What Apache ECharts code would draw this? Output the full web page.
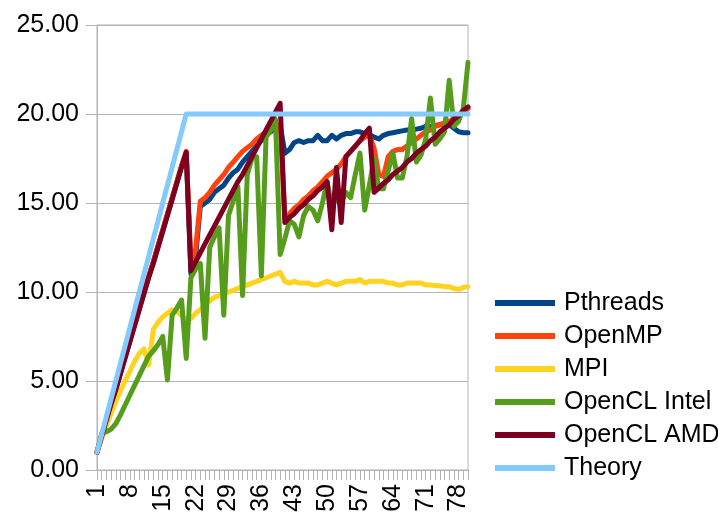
<!DOCTYPE html>
<html>
<head>
<meta charset="utf-8">
<script src="https://cdn.jsdelivr.net/npm/echarts@6/dist/echarts.min.js"></script>
<style>
html,body{margin:0;padding:0;background:#fff;}
#chart{width:718px;height:516px;}
</style>
</head>
<body>
<div id="chart"></div>
<script>
var categories = ['1','2','3','4','5','6','7','8','9','10','11','12','13','14','15','16','17','18','19','20',
'21','22','23','24','25','26','27','28','29','30','31','32','33','34','35','36','37','38','39','40',
'41','42','43','44','45','46','47','48','49','50','51','52','53','54','55','56','57','58','59','60',
'61','62','63','64','65','66','67','68','69','70','71','72','73','74','75','76','77','78','79','80'];

var pthreads = [1.0,1.9,2.8,3.7,4.55,5.45,6.35,7.25,8.15,9.05,9.95,10.85,11.7,12.6,13.45,14.35,15.25,16.15,17.05,17.8,
11.0,12.0,14.8,15.0,15.2,15.6,15.8,16.0,16.4,16.7,16.9,17.3,17.6,17.9,18.2,18.5,18.8,19.0,19.2,19.4,
17.8,18.0,18.4,18.5,18.4,18.5,18.5,18.8,18.5,18.5,18.8,18.6,18.8,18.9,18.9,19.0,19.0,18.9,18.85,18.7,
18.6,18.8,18.9,18.95,19.0,19.05,19.1,19.1,19.15,19.2,19.3,19.3,19.35,19.4,19.45,19.4,19.2,19.0,18.95,18.95];

var openmp = [1.0,1.95,2.85,3.75,4.6,5.5,6.4,7.3,8.2,9.1,10.0,10.9,11.7,12.6,13.5,14.4,15.3,16.2,17.1,17.9,
11.6,12.4,15.1,15.3,15.6,16.0,16.3,16.6,17.0,17.3,17.6,17.9,18.1,18.3,18.6,18.8,19.0,19.2,19.3,19.4,
14.2,14.4,14.7,14.9,15.2,15.4,15.7,15.9,16.2,16.5,16.7,16.9,17.2,17.6,17.9,18.2,18.5,18.7,18.8,18.1,
16.6,16.5,17.6,17.9,18.0,18.0,18.2,18.4,18.6,18.8,19.0,19.1,19.3,19.4,19.5,19.6,19.7,19.9,20.1,20.3];

var mpi = [1.0,1.75,2.5,3.2,3.85,4.45,5.0,5.55,6.1,6.55,6.8,5.9,7.9,8.3,8.6,8.8,9.0,8.9,8.7,8.4,
8.5,8.8,9.0,9.3,9.5,9.7,9.8,9.9,10.0,10.1,10.2,10.3,10.4,10.5,10.6,10.7,10.8,10.9,11.0,11.1,
10.6,10.5,10.6,10.5,10.5,10.5,10.4,10.4,10.5,10.6,10.5,10.4,10.5,10.6,10.6,10.6,10.7,10.5,10.6,10.6,
10.6,10.6,10.5,10.5,10.4,10.4,10.5,10.5,10.5,10.5,10.4,10.4,10.35,10.35,10.3,10.3,10.2,10.15,10.25,10.3];

var openclIntel = [1.0,2.05,2.15,2.3,2.6,3.1,3.65,4.2,4.75,5.3,5.85,6.4,6.7,7.05,7.5,5.06,8.7,9.1,9.55,6.27,
10.8,11.3,11.6,7.4,12.5,13.1,13.6,8.7,14.3,15.1,15.9,9.8,16.6,17.5,17.6,10.9,18.7,19.1,19.7,12.1,
13.0,14.0,13.8,13.1,14.3,14.8,14.6,14.0,15.0,16.2,14.8,15.3,15.0,15.6,15.3,16.6,17.8,14.6,16.0,17.5,
15.8,15.8,16.8,17.8,16.4,16.4,17.6,19.75,17.3,17.7,18.6,20.9,18.3,18.6,19.0,21.9,19.3,19.6,20.3,22.9];

var openclAMD = [1.0,1.9,2.8,3.7,4.5,5.4,6.3,7.2,8.1,9.0,9.9,10.8,11.6,12.5,13.4,14.3,15.2,16.1,17.0,17.85,
11.2,11.7,12.2,12.7,13.2,13.7,14.2,14.7,15.2,15.7,16.2,16.6,17.1,17.6,18.1,18.6,19.1,19.6,20.1,20.6,
13.9,14.2,14.4,14.7,14.9,15.2,15.4,15.7,15.9,16.2,13.5,17.0,13.9,17.6,17.9,18.2,18.5,18.9,19.2,15.6,
15.85,16.1,16.3,16.6,16.8,17.0,17.3,17.5,17.8,18.0,18.2,18.5,18.7,19.0,19.2,19.4,19.7,19.9,20.2,20.4];

var theory = [1,2,3,4,5,6,7,8,9,10,11,12,13,14,15,16,17,18,19,20,
20,20,20,20,20,20,20,20,20,20,20,20,20,20,20,20,20,20,20,20,
20,20,20,20,20,20,20,20,20,20,20,20,20,20,20,20,20,20,20,20,
20,20,20,20,20,20,20,20,20,20,20,20,20,20,20,20,20,20,20,20];

var seriesNames = ['Pthreads','OpenMP','MPI','OpenCL Intel','OpenCL AMD','Theory'];
var seriesData = [pthreads, openmp, mpi, openclIntel, openclAMD, theory];
var colors = ['#004586','#ff420e','#ffd320','#579d1c','#7e0021','#83caff'];
var yTicks = [0,5,10,15,20,25];

var FONT = '"Liberation Sans", Arial, sans-serif';
var chart = echarts.init(document.getElementById('chart'), null, {renderer:'canvas'});
chart.setOption({
  animation: false,
  backgroundColor: '#fff',
  color: colors,
  grid: {left: 97, right: 250, top: 25, bottom: 46, show: true, borderColor: '#b3b3b3', borderWidth: 1, backgroundColor: 'transparent'},
  legend: {
    orient: 'vertical', left: 490, top: 285,
    itemWidth: 60, itemHeight: 6, itemGap: 7, icon: 'rect',
    textStyle: {fontFamily: FONT, fontSize: 25, color: '#000', lineHeight: 26, padding: [0,0,0,4]},
    data: seriesNames
  },
  xAxis: {
    type: 'category', data: categories, boundaryGap: false,
    axisLine: {show: true, lineStyle: {color: '#b3b3b3', width: 1}},
    axisTick: {show: true, interval: 0, length: 10, lineStyle: {color: '#b3b3b3'}},
    axisLabel: {interval: 6, rotate: 90, margin: 14, fontFamily: FONT, fontSize: 25, color: '#000'},
    splitLine: {show: false}
  },
  yAxis: {
    type: 'value', min: yTicks[0], max: yTicks[yTicks.length-1], interval: 5,
    axisLine: {show: true, lineStyle: {color: '#b3b3b3', width: 1}},
    axisTick: {show: true, length: 11, lineStyle: {color: '#b3b3b3'}},
    axisLabel: {margin: 18, fontFamily: FONT, fontSize: 25, color: '#000', formatter: function(v){return v.toFixed(2);}},
    splitLine: {show: true, lineStyle: {color: '#b3b3b3', width: 1}}
  },
  series: seriesNames.map(function(n, k){
    return {
      name: n, type: 'line', data: seriesData[k], symbol: 'none', showSymbol: false,
      lineStyle: {width: 5, color: colors[k], join: 'round', cap: 'round'},
      itemStyle: {color: colors[k]},
      emphasis: {disabled: true}
    };
  })
});
</script>
</body>
</html>
